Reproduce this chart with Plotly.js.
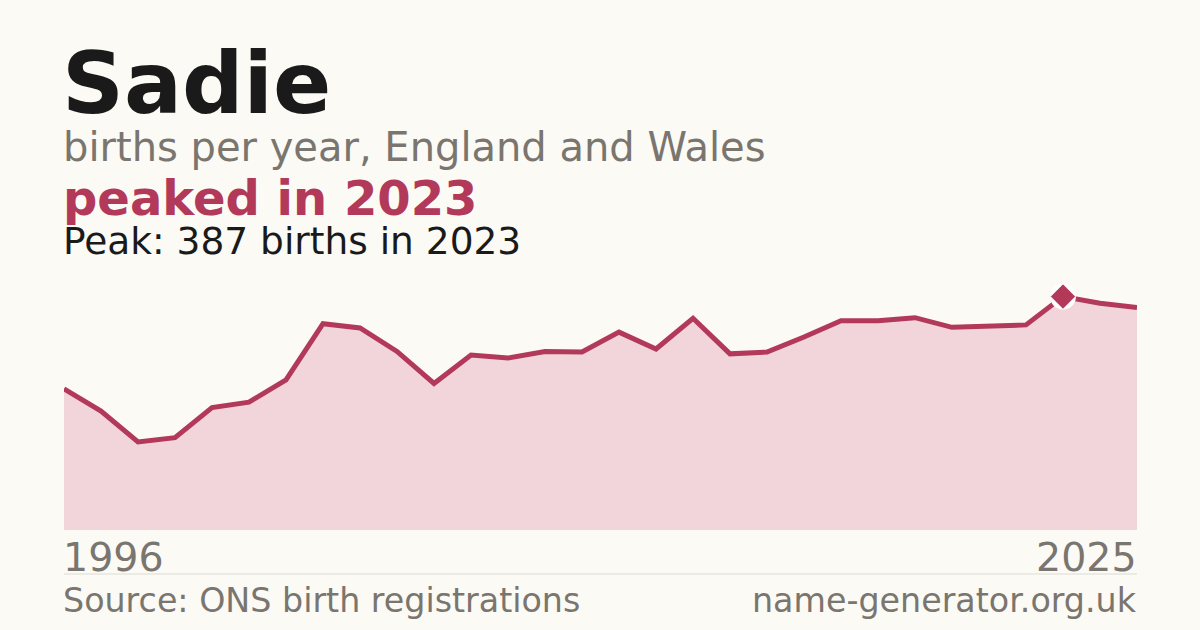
<!DOCTYPE html>
<html>
<head>
<meta charset="utf-8">
<script src="https://cdn.plot.ly/plotly-3.0.1.min.js"></script>
<style>
  html, body { margin: 0; padding: 0; background: #fbfaf5; }
  #chart { width: 1200px; height: 630px; }
</style>
</head>
<body>
<div id="chart"></div>
<script>
// births per year for Sadie
let years = [1996, 1997, 1998, 1999, 2000, 2001, 2002, 2003, 2004, 2005,
             2006, 2007, 2008, 2009, 2010, 2011, 2012, 2013, 2014, 2015,
             2016, 2017, 2018, 2019, 2020, 2021, 2022, 2023, 2024, 2025];
let births = [234, 197, 146, 153, 203, 212, 249, 342, 335, 296,
              243, 290, 285, 296, 295, 328, 300, 351, 292, 295,
              320, 347, 347, 352, 336, 338, 340, 387, 376, 369];
let peakYear = [2023];
let peakBirths = [387];

const W = 1200, H = 630;
const red = '#b2395a';
const grey = '#7a756e';
const ink = '#1a1a1a';
const font = 'DejaVu Sans, sans-serif';

// pixel helpers for paper coords (margins are 0)
function px(x) { return x / W; }
function py(y) { return 1 - y / H; }

function label(text, x, y, size, color, anchor, bold) {
    return {
        text: bold ? '<b>' + text + '</b>' : text,
        x: px(x), y: py(y),
        xref: 'paper', yref: 'paper',
        xanchor: anchor, yanchor: 'middle',
        showarrow: false,
        font: { family: font, size: size, color: color }
    };
}

let area = {
    x: years,
    y: births,
    type: 'scatter',
    mode: 'lines',
    fill: 'tozeroy',
    fillcolor: '#f2d5da',
    line: { color: red, width: 5 },
    hoverinfo: 'skip'
};

let halo = {
    x: peakYear,
    y: peakBirths,
    type: 'scatter',
    mode: 'markers',
    marker: { symbol: 'circle', size: 26, color: '#ffffff' },
    hoverinfo: 'skip'
};

let peak = {
    x: peakYear,
    y: peakBirths,
    type: 'scatter',
    mode: 'markers',
    marker: { symbol: 'diamond', size: 18, color: red, line: { color: red, width: 1 } },
    hoverinfo: 'skip'
};

let layout = {
    width: W,
    height: H,
    margin: { l: 0, r: 0, t: 0, b: 0 },
    paper_bgcolor: '#fbfaf5',
    plot_bgcolor: 'rgba(0,0,0,0)',
    showlegend: false,
    xaxis: {
        domain: [64 / W, 1137 / W],
        range: [1996, 2025],
        showgrid: false, zeroline: false, showticklabels: false, showline: false
    },
    yaxis: {
        domain: [py(530), py(270)],
        range: [0, 431],
        showgrid: false, zeroline: false, showticklabels: false, showline: false
    },
    shapes: [
        {
            type: 'line', xref: 'paper', yref: 'paper',
            x0: px(64), x1: px(1137), y0: py(574), y1: py(574),
            line: { color: '#dddad3', width: 1 }
        }
    ],
    annotations: [
        label('Sadie', 60, 83, 86, ink, 'left', true),
        label('births per year, England and Wales', 61, 147, 40, grey, 'left', false),
        label('peaked in 2023', 61, 198, 48, red, 'left', true),
        label('Peak: 387 births in 2023', 61, 241, 37.5, ink, 'left', false),
        label('1996', 61, 557, 39.5, grey, 'left', false),
        label('2025', 1139, 557, 39.5, grey, 'right', false),
        label('Source: ONS birth registrations', 61, 600, 33.3, grey, 'left', false),
        label('name-generator.org.uk', 1139, 600, 33.3, grey, 'right', false)
    ]
};

Plotly.newPlot('chart', [area, halo, peak], layout, { staticPlot: true, displayModeBar: false });
</script>
</body>
</html>
